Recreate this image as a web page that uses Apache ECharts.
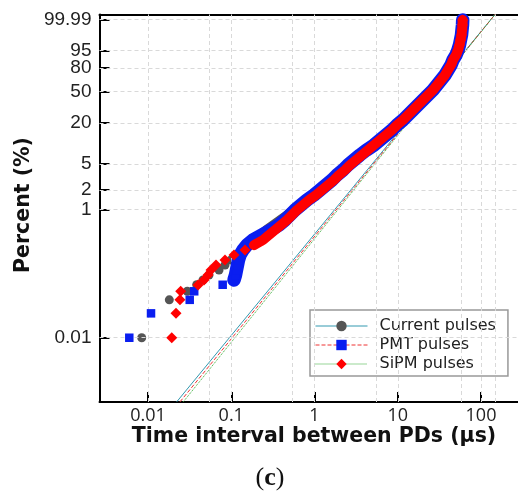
<!DOCTYPE html>
<html>
<head>
<meta charset="utf-8">
<script src="https://cdn.jsdelivr.net/npm/echarts@6/dist/echarts.min.js"></script>
<style>html,body{margin:0;padding:0;background:#fff}#c{width:518px;height:493px}</style>
</head>
<body>
<div id="c"></div>
<script>
// ---- tick labels ----
const yTickPercents = [0.01, 1, 2, 5, 20, 50, 80, 95, 99.99];
const yTickLabels = ['0.01', '1', '2', '5', '20', '50', '80', '95', '99.99'];
const xTickValues = [0.01, 0.1, 1, 10, 100];
const xTickLabels = ['0.01', '0.1', '1', '10', '100'];
const xGridValues = [0.01, 0.054, 0.1, 0.54, 1, 5.5, 10, 57, 100, 147];

// ---- series: Current pulses (time in µs, cumulative percent) ----
const currentTime = [0.0084, 0.01803, 0.02966, 0.03846,
  0.0458, 0.0540, 0.0713, 0.0841, 0.0993, 0.1173, 0.1384, 0.1634, 0.1929, 0.2278, 0.2688, 0.3263, 0.3959, 0.4805, 0.5672, 0.6696, 0.7905,
  0.9862, 1.165, 1.375, 1.623, 1.863, 2.200, 2.526, 2.982, 3.520, 4.213,
  5.184, 6.120, 7.226, 8.530, 9.795, 11.56, 13.28, 15.25, 17.51, 20.11, 23.09, 26.51, 29.61, 33.08, 36.95, 40.15, 43.62, 46.10, 50.09, 52.92, 55.16, 56.72, 58.31, 59.12, 59.94, 60.28];
const currentPct = [0.01, 0.039, 0.053, 0.067,
  0.0795, 0.0952, 0.1139, 0.1363, 0.1631, 0.1952, 0.2333, 0.2791, 0.3340, 0.3995, 0.4779, 0.5716, 0.6837, 0.8177, 0.9777, 1.169, 1.397,
  1.670, 1.995, 2.383, 2.844, 3.394, 4.048, 4.825, 5.747, 6.837, 8.126,
  9.645, 11.43, 13.52, 15.96, 18.78, 22.04, 25.76, 29.99, 34.73, 39.98, 45.72, 51.86, 58.31, 64.90, 71.43, 77.67, 83.38, 88.32, 92.34, 95.38, 97.48, 98.78, 99.49, 99.82, 99.947, 99.988];

// ---- series: PMT pulses ----
const pmtTime = [0.00596, 0.01087, 0.0317, 0.0359, 0.0789,
  0.1079, 0.1125, 0.1156, 0.1189, 0.1222, 0.1274, 0.1384, 0.1546, 0.1825, 0.2341, 0.3003, 0.3747, 0.4421, 0.5078, 0.5831, 0.6884, 0.8127,
  0.9862, 1.165, 1.375, 1.623, 1.863, 2.200, 2.526, 2.982, 3.520, 4.213,
  5.184, 6.120, 7.226, 8.530, 9.795, 11.56, 13.28, 15.25, 17.51, 20.11, 23.09, 26.51, 29.61, 33.08, 36.95, 40.15, 43.62, 46.10, 50.09, 52.92, 55.16, 56.72, 58.31, 59.12, 59.94, 60.28];
const pmtPct = [0.01, 0.024, 0.039, 0.053, 0.067,
  0.0795, 0.0952, 0.1139, 0.1363, 0.1631, 0.1952, 0.2333, 0.2791, 0.3340, 0.3995, 0.4779, 0.5716, 0.6837, 0.8177, 0.9777, 1.169, 1.397,
  1.670, 1.995, 2.383, 2.844, 3.394, 4.048, 4.825, 5.747, 6.837, 8.126,
  9.645, 11.43, 13.52, 15.96, 18.78, 22.04, 25.76, 29.99, 34.73, 39.98, 45.72, 51.86, 58.31, 64.90, 71.43, 77.67, 83.38, 88.32, 92.34, 95.38, 97.48, 98.78, 99.49, 99.82, 99.947, 99.988];

// ---- series: SiPM pulses ----
const sipmTime = [0.0193, 0.0217, 0.0242, 0.0247,
  0.0399, 0.0471, 0.0526, 0.0571, 0.0656, 0.0841, 0.1079, 0.1463, 0.1876, 0.2407, 0.2841, 0.3354, 0.3959, 0.4673, 0.5366, 0.6164, 0.7277, 0.859,
  1.042, 1.231, 1.453, 1.715, 1.970, 2.325, 2.670, 3.150, 3.720, 4.391,
  5.184, 6.120, 7.226, 8.530, 9.795, 11.56, 13.28, 15.25, 17.51, 20.11, 23.09, 26.51, 29.61, 33.08, 36.95, 40.15, 43.62, 46.10, 50.09, 52.92, 55.16, 56.72, 58.31, 59.12, 59.94, 60.28];
const sipmPct = [0.01, 0.024, 0.039, 0.053,
  0.0664, 0.0795, 0.0952, 0.1139, 0.1363, 0.1631, 0.1952, 0.2333, 0.2791, 0.3340, 0.3995, 0.4779, 0.5716, 0.6837, 0.8177, 0.9777, 1.169, 1.397,
  1.670, 1.995, 2.383, 2.844, 3.394, 4.048, 4.825, 5.747, 6.837, 8.126,
  9.645, 11.43, 13.52, 15.96, 18.78, 22.04, 25.76, 29.99, 34.73, 39.98, 45.72, 51.86, 58.31, 64.90, 71.43, 77.67, 83.38, 88.32, 92.34, 95.38, 97.48, 98.78, 99.49, 99.82, 99.947, 99.988];

// ---- Weibull fit lines (two end points each) ----
const currentFitTime = [0.02212, 151.4];
const pmtFitTime = [0.02424, 151.4];
const sipmFitTime = [0.02655, 151.4];
const fitPct = [0.001, 99.999];

// ---- transforms ----
const wb = p => Math.log(-Math.log(1 - p / 100));
const lg = t => Math.log10(t);
const pts = (ts, ps) => ts.map((t, i) => [lg(t), wb(ps[i])]);

const chart = echarts.init(document.getElementById('c'), null, {renderer: 'canvas'});

const yVals = yTickPercents.map(wb);
const xVals = xTickValues.map(lg);
const nearestLabel = (v, vals, labels) => {
  let bi = 0, bd = Infinity;
  vals.forEach((x, i) => { const d = Math.abs(x - v); if (d < bd) { bd = d; bi = i; } });
  return labels[bi];
};

const X_MIN = -2.5826, X_MAX = 2.4444, Y_MIN = -11.519, Y_MAX = 2.400;
const gridStyle = {color: '#d9d9d9', width: 1, type: [4, 3]};

// markers (legend entries)
const markerSeries = (name, ts, ps, symbol, size, color, z) => ({
  name, type: 'line', data: pts(ts, ps), symbol, symbolSize: size,
  showSymbol: true, showAllSymbol: true, z,
  itemStyle: {color, borderWidth: 0},
  lineStyle: {opacity: 0, width: 0.01},
  emphasis: {disabled: true}, silent: true, animation: false
});
// dense part of each distribution drawn as a continuous band of overlapping markers
const bandSeries = (name, ts, ps, fromPct, width, color, z) => ({
  name, type: 'line', data: pts(ts, ps).filter((d, i) => ps[i] >= fromPct), symbol: 'none', z,
  lineStyle: {color, width, cap: 'round', join: 'round'},
  emphasis: {disabled: true}, silent: true, animation: false
});
const fitSeries = (name, ts, color, type, z) => ({
  name, type: 'line', data: pts(ts, fitPct), symbol: 'none', z,
  lineStyle: {color, width: 1, type}, emphasis: {disabled: true}, silent: true, animation: false
});

chart.setOption({
  animation: false,
  grid: {left: 99.5, top: 14.5, right: 0, bottom: 91, containLabel: false},
  xAxis: [{
    type: 'value', min: X_MIN, max: X_MAX,
    axisLine: {onZero: false, lineStyle: {color: '#000', width: 2}},
    axisTick: {inside: true, length: 10, customValues: xVals, lineStyle: {color: '#000', width: 2}},
    axisLabel: {customValues: xVals, margin: 5, fontSize: 18, fontFamily: 'Open Sans', color: '#222',
      formatter: v => nearestLabel(v, xVals, xTickLabels)},
    splitLine: {show: false}
  }, {
    type: 'value', position: 'top', min: X_MIN, max: X_MAX,
    axisLine: {onZero: false, lineStyle: {color: '#000', width: 2}},
    axisTick: {show: false}, axisLabel: {show: false}, splitLine: {show: false}
  }],
  yAxis: {
    type: 'value', min: Y_MIN, max: Y_MAX,
    axisLine: {show: true, onZero: false, lineStyle: {color: '#000', width: 2}},
    axisTick: {show: true, inside: true, length: 10, customValues: yVals, lineStyle: {color: '#000', width: 2}},
    axisLabel: {customValues: yVals, margin: 8, fontSize: 19, fontFamily: 'Liberation Sans', color: '#222',
      formatter: v => nearestLabel(v, yVals, yTickLabels)},
    splitLine: {show: false}
  },
  legend: {
    data: [
      {name: 'Current pulses', lineStyle: {color: '#3399b0', width: 1, type: 'solid', opacity: 1}},
      {name: 'PMT pulses', lineStyle: {color: '#ee3333', width: 1, type: 'dashed', opacity: 1}},
      {name: 'SiPM pulses', lineStyle: {color: '#33aa33', width: 1, type: 'dotted', opacity: 1}}
    ],
    orient: 'vertical', left: 310, top: 310,
    backgroundColor: '#fff', borderColor: '#999', borderWidth: 1.5, borderRadius: 0,
    padding: [8, 12, 4, 5], itemWidth: 52, itemHeight: 13, itemGap: 3,
    textStyle: {fontSize: 16, fontFamily: 'DejaVu Sans', color: '#222', padding: [0, 0, 0, 7]},
    selectedMode: false
  },
  series: [
    {
      name: 'grid', type: 'line', data: [], z: 1, silent: true,
      markLine: {
        silent: true, symbol: 'none', label: {show: false}, lineStyle: gridStyle, animation: false,
        data: xGridValues.map(v => ({xAxis: lg(v)})).concat(yVals.map(v => ({yAxis: v})))
      }
    },
    fitSeries('Current fit', currentFitTime, '#3399b0', 'solid', 2),
    fitSeries('PMT fit', pmtFitTime, '#ee3333', 'dashed', 2),
    fitSeries('SiPM fit', sipmFitTime, '#33aa33', 'dotted', 2),
    bandSeries('Current band', currentTime, currentPct, 0.25, 10.5, '#555555', 3),
    markerSeries('Current pulses', currentTime, currentPct, 'circle', 9, '#555555', 4),
    bandSeries('PMT band', pmtTime, pmtPct, 0.075, 13.5, '#0a1ef0', 5),
    markerSeries('PMT pulses', pmtTime, pmtPct, 'rect', 8.5, '#0a1ef0', 6),
    bandSeries('SiPM band', sipmTime, sipmPct, 0.25, 10, '#ff0000', 7),
    markerSeries('SiPM pulses', sipmTime, sipmPct, 'diamond', 11, '#ff0000', 8)
  ],
  graphic: [
    {type: 'text', x: 314, y: 437, silent: true,
      style: {text: 'Time interval between PDs (µs)', font: 'bold 20.5px "DejaVu Sans"', fill: '#111', align: 'center', verticalAlign: 'middle'}},
    {type: 'text', x: 24, y: 205, rotation: Math.PI / 2, silent: true,
      style: {text: 'Percent (%)', font: 'bold 20.5px "DejaVu Sans"', fill: '#111', align: 'center', verticalAlign: 'middle'}},
    {type: 'text', x: 270, y: 478, silent: true,
      style: {text: '({b|c})', font: '26px "Liberation Serif"', fill: '#111', align: 'center', verticalAlign: 'middle',
        rich: {b: {font: 'bold 26px "Liberation Serif"', fill: '#111'}}}}
  ]
});
</script>
</body>
</html>
